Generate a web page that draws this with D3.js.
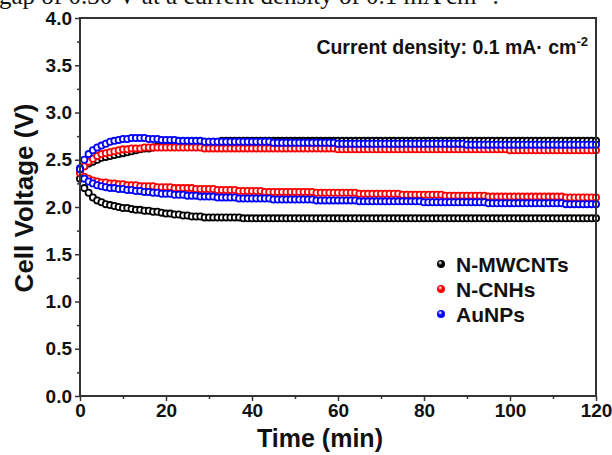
<!DOCTYPE html>
<html>
  <head>
    <meta charset="utf-8">
    <script src="https://cdn.jsdelivr.net/npm/d3@7"></script>
    <style>
      body { margin: 0; background: #fff; }
      svg { display: block; }
      .tick text { font-family: 'Liberation Sans', Arial, sans-serif; font-weight: bold; }
    </style>
  </head>
  <body>
    <svg width="612" height="455"></svg>
    <script>
      // sampling grid, minutes
      const time = d3.range(0, 121);

      // N-MWCNTs (black), upper = charge, lower = discharge
      const mwcntUpper = [
        2.38, 2.43, 2.46, 2.48, 2.50, 2.52, 2.53, 2.54, 2.55, 2.56,
        2.57, 2.58, 2.59, 2.60, 2.61, 2.62, 2.62, 2.63, 2.64, 2.64,
        2.65, 2.65, 2.66, 2.66, 2.67, 2.67, 2.68, 2.68, 2.68, 2.69,
        2.69, 2.69, 2.69, 2.70, 2.70, 2.70, 2.70, 2.70, 2.70, 2.70,
        2.70, 2.70, 2.70, 2.70, 2.70, 2.70, 2.70, 2.70, 2.70, 2.70,
        2.70, 2.70, 2.70, 2.70, 2.70, 2.70, 2.70, 2.70, 2.70, 2.70,
        2.70, 2.70, 2.70, 2.70, 2.70, 2.70, 2.70, 2.70, 2.70, 2.70,
        2.70, 2.70, 2.70, 2.70, 2.70, 2.70, 2.70, 2.70, 2.70, 2.70,
        2.70, 2.70, 2.70, 2.70, 2.70, 2.70, 2.70, 2.70, 2.70, 2.70,
        2.70, 2.70, 2.70, 2.70, 2.70, 2.70, 2.70, 2.70, 2.70, 2.70,
        2.70, 2.70, 2.70, 2.70, 2.70, 2.70, 2.70, 2.70, 2.70, 2.70,
        2.70, 2.70, 2.70, 2.70, 2.70, 2.70, 2.70, 2.70, 2.70, 2.70,
        2.70
      ];
      const mwcntLower = [
        2.30, 2.20, 2.15, 2.10, 2.07, 2.05, 2.03, 2.02, 2.01, 2.00,
        1.99, 1.99, 1.98, 1.97, 1.97, 1.96, 1.96, 1.95, 1.95, 1.94,
        1.93, 1.93, 1.92, 1.92, 1.91, 1.91, 1.90, 1.90, 1.90, 1.89,
        1.89, 1.89, 1.89, 1.89, 1.89, 1.89, 1.89, 1.89, 1.88, 1.88,
        1.88, 1.88, 1.88, 1.88, 1.88, 1.88, 1.88, 1.88, 1.88, 1.88,
        1.88, 1.88, 1.88, 1.88, 1.88, 1.88, 1.88, 1.88, 1.88, 1.88,
        1.88, 1.88, 1.88, 1.88, 1.88, 1.88, 1.88, 1.88, 1.88, 1.88,
        1.88, 1.88, 1.88, 1.88, 1.88, 1.88, 1.88, 1.88, 1.88, 1.88,
        1.88, 1.88, 1.88, 1.88, 1.88, 1.88, 1.88, 1.88, 1.88, 1.88,
        1.88, 1.88, 1.88, 1.88, 1.88, 1.88, 1.88, 1.88, 1.88, 1.88,
        1.88, 1.88, 1.88, 1.88, 1.88, 1.88, 1.88, 1.88, 1.88, 1.88,
        1.88, 1.88, 1.88, 1.88, 1.88, 1.88, 1.88, 1.88, 1.88, 1.88,
        1.88
      ];

      // N-CNHs (red)
      const cnhUpper = [
        2.37, 2.43, 2.48, 2.51, 2.54, 2.56, 2.57, 2.58, 2.59, 2.60,
        2.61, 2.61, 2.62, 2.62, 2.62, 2.63, 2.63, 2.63, 2.63, 2.63,
        2.63, 2.63, 2.63, 2.63, 2.63, 2.63, 2.63, 2.63, 2.63, 2.62,
        2.62, 2.62, 2.62, 2.62, 2.62, 2.62, 2.62, 2.62, 2.62, 2.62,
        2.62, 2.62, 2.62, 2.62, 2.62, 2.62, 2.62, 2.62, 2.62, 2.62,
        2.62, 2.62, 2.62, 2.62, 2.62, 2.62, 2.62, 2.62, 2.62, 2.62,
        2.61, 2.61, 2.61, 2.61, 2.61, 2.61, 2.61, 2.61, 2.61, 2.61,
        2.61, 2.61, 2.61, 2.61, 2.61, 2.61, 2.61, 2.61, 2.61, 2.61,
        2.61, 2.61, 2.61, 2.61, 2.61, 2.61, 2.61, 2.61, 2.61, 2.61,
        2.61, 2.61, 2.61, 2.61, 2.61, 2.61, 2.61, 2.61, 2.61, 2.61,
        2.60, 2.60, 2.60, 2.60, 2.60, 2.60, 2.60, 2.60, 2.60, 2.60,
        2.60, 2.60, 2.60, 2.60, 2.60, 2.60, 2.60, 2.60, 2.60, 2.60,
        2.60
      ];
      const cnhLower = [
        2.36, 2.32, 2.30, 2.28, 2.27, 2.26, 2.26, 2.25, 2.25, 2.24,
        2.24, 2.23, 2.23, 2.23, 2.22, 2.22, 2.22, 2.22, 2.21, 2.21,
        2.21, 2.21, 2.20, 2.20, 2.20, 2.20, 2.20, 2.19, 2.19, 2.19,
        2.19, 2.19, 2.18, 2.18, 2.18, 2.18, 2.18, 2.17, 2.17, 2.17,
        2.17, 2.17, 2.17, 2.16, 2.16, 2.16, 2.16, 2.16, 2.16, 2.16,
        2.16, 2.16, 2.16, 2.16, 2.16, 2.15, 2.15, 2.15, 2.15, 2.15,
        2.15, 2.15, 2.15, 2.15, 2.15, 2.14, 2.14, 2.14, 2.14, 2.14,
        2.14, 2.14, 2.14, 2.14, 2.14, 2.13, 2.13, 2.13, 2.13, 2.13,
        2.13, 2.13, 2.13, 2.13, 2.13, 2.12, 2.12, 2.12, 2.12, 2.12,
        2.12, 2.12, 2.12, 2.12, 2.12, 2.11, 2.11, 2.11, 2.11, 2.11,
        2.11, 2.11, 2.11, 2.11, 2.11, 2.11, 2.11, 2.11, 2.11, 2.11,
        2.11, 2.11, 2.11, 2.10, 2.10, 2.10, 2.10, 2.10, 2.10, 2.10,
        2.10
      ];

      // AuNPs (blue)
      const aunpUpper = [
        2.41, 2.50, 2.56, 2.60, 2.63, 2.65, 2.67, 2.69, 2.70, 2.71,
        2.72, 2.72, 2.73, 2.73, 2.73, 2.73, 2.72, 2.72, 2.72, 2.71,
        2.71, 2.71, 2.71, 2.70, 2.70, 2.70, 2.70, 2.70, 2.70, 2.69,
        2.69, 2.69, 2.69, 2.69, 2.69, 2.69, 2.69, 2.69, 2.69, 2.69,
        2.69, 2.69, 2.69, 2.69, 2.69, 2.68, 2.68, 2.68, 2.68, 2.68,
        2.68, 2.68, 2.68, 2.68, 2.68, 2.68, 2.68, 2.68, 2.68, 2.68,
        2.67, 2.67, 2.67, 2.67, 2.67, 2.67, 2.67, 2.67, 2.67, 2.67,
        2.67, 2.67, 2.67, 2.67, 2.67, 2.67, 2.67, 2.67, 2.67, 2.67,
        2.67, 2.67, 2.67, 2.67, 2.67, 2.67, 2.67, 2.67, 2.67, 2.67,
        2.66, 2.66, 2.66, 2.66, 2.66, 2.66, 2.66, 2.66, 2.66, 2.66,
        2.66, 2.66, 2.66, 2.66, 2.66, 2.66, 2.66, 2.66, 2.66, 2.66,
        2.66, 2.66, 2.66, 2.66, 2.66, 2.66, 2.66, 2.66, 2.66, 2.66,
        2.66
      ];
      const aunpLower = [
        2.40, 2.30, 2.27, 2.25, 2.23, 2.22, 2.21, 2.20, 2.20, 2.19,
        2.19, 2.18, 2.18, 2.17, 2.17, 2.16, 2.16, 2.15, 2.15, 2.14,
        2.14, 2.14, 2.13, 2.13, 2.13, 2.12, 2.12, 2.12, 2.11, 2.11,
        2.11, 2.11, 2.10, 2.10, 2.10, 2.10, 2.10, 2.09, 2.09, 2.09,
        2.09, 2.09, 2.09, 2.09, 2.09, 2.08, 2.08, 2.08, 2.08, 2.08,
        2.08, 2.08, 2.08, 2.08, 2.08, 2.07, 2.07, 2.07, 2.07, 2.07,
        2.07, 2.07, 2.07, 2.07, 2.07, 2.06, 2.06, 2.06, 2.06, 2.06,
        2.06, 2.06, 2.06, 2.06, 2.06, 2.06, 2.06, 2.06, 2.06, 2.06,
        2.05, 2.05, 2.05, 2.05, 2.05, 2.05, 2.05, 2.05, 2.05, 2.05,
        2.05, 2.05, 2.05, 2.05, 2.05, 2.04, 2.04, 2.04, 2.04, 2.04,
        2.04, 2.04, 2.04, 2.04, 2.04, 2.04, 2.04, 2.04, 2.04, 2.04,
        2.04, 2.04, 2.04, 2.03, 2.03, 2.03, 2.03, 2.03, 2.03, 2.03,
        2.03
      ];

      const seriesNames = ['N-MWCNTs', 'N-CNHs', 'AuNPs'];
      const seriesColors = ['#000000', '#ff0000', '#0000ff'];
      const xTicks = [0, 20, 40, 60, 80, 100, 120];
      const xMinor = [10, 30, 50, 70, 90, 110];
      const yTicks = [0, 0.5, 1, 1.5, 2, 2.5, 3, 3.5, 4];
      const yMinor = [0.25, 0.75, 1.25, 1.75, 2.25, 2.75, 3.25, 3.75];

      const curves = [
        { name: seriesNames[0], color: seriesColors[0], upper: mwcntUpper, lower: mwcntLower },
        { name: seriesNames[1], color: seriesColors[1], upper: cnhUpper, lower: cnhLower },
        { name: seriesNames[2], color: seriesColors[2], upper: aunpUpper, lower: aunpLower }
      ];

      const margin = { left: 80, right: 16, top: 18, bottom: 59 };
      const svg = d3.select('svg');
      const width = +svg.attr('width');
      const height = +svg.attr('height');
      const innerWidth = width - margin.left - margin.right;
      const innerHeight = height - margin.top - margin.bottom;
      const font = "'Liberation Sans', Arial, sans-serif";

      // caption line of the page above, cut off by the crop
      const cap = svg.append('text')
          .attr('x', -1)
          .attr('y', 4)
          .attr('font-family', "'Liberation Serif', 'Times New Roman', serif")
          .attr('font-size', 25)
          .attr('fill', '#111')
          .text('gap of 0.30 V at a current density of 0.1 mA cm');
      cap.append('tspan').attr('font-size', 15).attr('dy', -10).text('−2');
      cap.append('tspan').attr('dy', 10).text('.');

      const g = svg.append('g')
          .attr('transform', `translate(${margin.left},${margin.top})`);

      const xScale = d3.scaleLinear().domain([0, 120]).range([0, innerWidth]);
      const yScale = d3.scaleLinear().domain([0, 4]).range([innerHeight, 0]);

      // markers, drawn black then red then blue
      curves.forEach(c => {
        [c.upper, c.lower].forEach(vals => {
          g.append('g').selectAll('circle')
            .data(time.map((t, i) => ({ t: t, v: vals[i] })))
            .enter().append('circle')
              .attr('cx', d => xScale(d.t))
              .attr('cy', d => yScale(d.v))
              .attr('r', 3.1)
              .attr('fill', '#fff')
              .attr('stroke', c.color)
              .attr('stroke-width', 1.8);
        });
      });

      // axes
      const xAxis = d3.axisBottom(xScale).tickValues(xTicks).tickSize(5).tickPadding(3)
        .tickFormat(d3.format('d'));
      const xAxisMinor = d3.axisBottom(xScale).tickValues(xMinor).tickSize(3).tickFormat('');
      const yAxis = d3.axisLeft(yScale).tickValues(yTicks).tickSize(5).tickPadding(3)
        .tickFormat(d3.format('.1f'));
      const yAxisMinor = d3.axisLeft(yScale).tickValues(yMinor).tickSize(3).tickFormat('');

      const xAxisG = g.append('g').attr('transform', `translate(0,${innerHeight})`).call(xAxis);
      g.append('g').attr('transform', `translate(0,${innerHeight})`).call(xAxisMinor);
      const yAxisG = g.append('g').call(yAxis);
      g.append('g').call(yAxisMinor);

      g.selectAll('.domain').remove();
      g.selectAll('.tick line').attr('stroke', '#333').attr('stroke-width', 1.5);
      xAxisG.selectAll('text').attr('font-size', 19).attr('fill', '#111');
      yAxisG.selectAll('text').attr('font-size', 19).attr('fill', '#111');

      // frame
      g.append('rect')
          .attr('x', 0)
          .attr('y', 0)
          .attr('width', innerWidth)
          .attr('height', innerHeight)
          .attr('fill', 'none')
          .attr('stroke', '#333')
          .attr('stroke-width', 2);

      // axis titles
      svg.append('text')
          .attr('x', 320)
          .attr('y', 447)
          .attr('text-anchor', 'middle')
          .attr('font-family', font)
          .attr('font-weight', 'bold')
          .attr('font-size', 25)
          .attr('fill', '#111')
          .text('Time (min)');

      svg.append('text')
          .attr('transform', 'translate(33,198) rotate(-90)')
          .attr('text-anchor', 'middle')
          .attr('font-family', font)
          .attr('font-weight', 'bold')
          .attr('font-size', 26)
          .attr('fill', '#111')
          .text('Cell Voltage (V)');

      // annotation
      const note = svg.append('text')
          .attr('x', 588)
          .attr('y', 54)
          .attr('text-anchor', 'end')
          .attr('font-family', font)
          .attr('font-weight', 'bold')
          .attr('font-size', 19.5)
          .attr('fill', '#111')
          .text('Current density: 0.1 mA· cm');
      note.append('tspan').attr('font-size', 13).attr('dy', -8).text('-2');

      // legend
      const defs = svg.append('defs');
      seriesColors.forEach((col, i) => {
        const grad = defs.append('radialGradient').attr('id', 'ball' + i)
          .attr('cx', '40%').attr('cy', '35%').attr('r', '65%');
        grad.append('stop').attr('offset', '0%').attr('stop-color', '#fff');
        grad.append('stop').attr('offset', '45%').attr('stop-color', col);
        grad.append('stop').attr('offset', '100%').attr('stop-color', col);
      });

      const legend = svg.append('g').attr('transform', 'translate(441,264)');
      seriesNames.forEach((name, i) => {
        legend.append('circle')
            .attr('cx', 0)
            .attr('cy', i * 25)
            .attr('r', 4)
            .attr('fill', `url(#ball${i})`);
        legend.append('text')
            .attr('x', 15)
            .attr('y', i * 25)
            .attr('dy', '0.36em')
            .attr('font-family', font)
            .attr('font-weight', 'bold')
            .attr('font-size', 21)
            .attr('fill', '#111')
            .text(name);
      });
    </script>
  </body>
</html>
